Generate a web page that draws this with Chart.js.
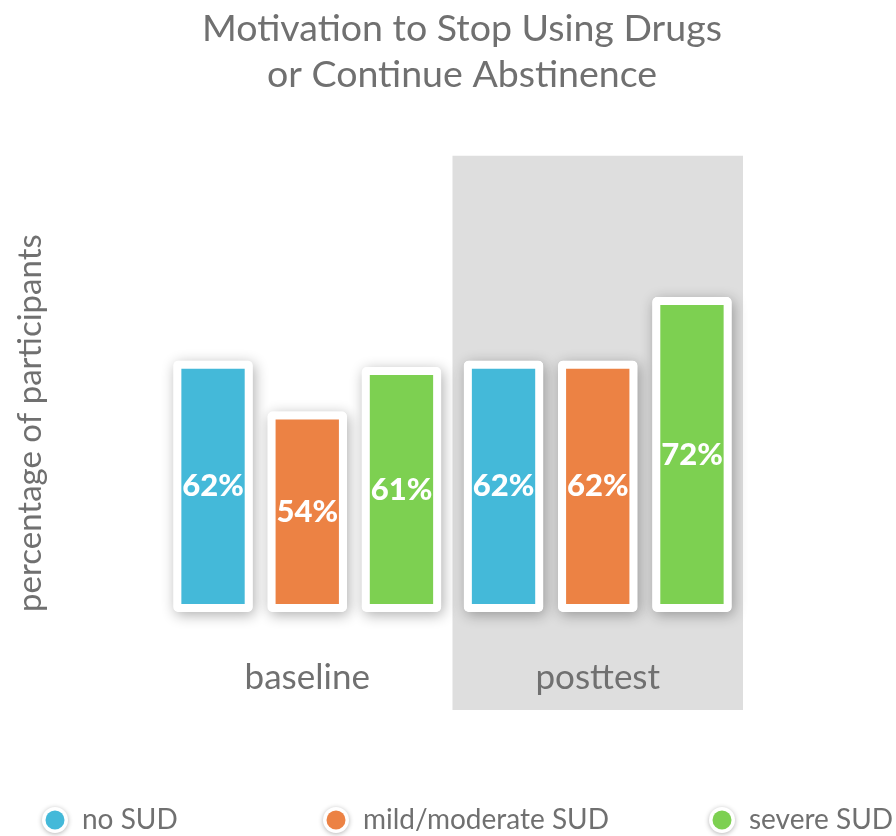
<!DOCTYPE html>
<html>
<head>
<meta charset="utf-8">
<script src="https://cdn.jsdelivr.net/npm/chart.js@4.4.1/dist/chart.umd.min.js"></script>
<style>
  html, body { margin: 0; padding: 0; background: #fff; }
</style>
</head>
<body>
<canvas id="chart" width="896" height="836"></canvas>
<script>
// data
const categories = ["baseline", "posttest"];
const seriesNames = ["no SUD", "mild/moderate SUD", "severe SUD"];
const noSud = [62, 62];
const mildModerateSud = [54, 62];
const severeSud = [61, 72];
const seriesColors = ["#44b9d9", "#ec8244", "#7dd051"];

// the value axis does not start at zero in the original
const yMin = 22.5;
const yMax = 94.2;

const TEXT_GRAY = "#707070";
const FONT = "Lato, 'Open Sans', sans-serif";

// grey band behind the posttest group
const bandPlugin = {
  id: "band",
  beforeDraw(chart) {
    const ctx = chart.ctx;
    const x = chart.scales.x;
    const half = (x.getPixelForValue(1) - x.getPixelForValue(0)) / 2;
    const cx = x.getPixelForValue(1);
    const top = chart.chartArea.top;
    ctx.save();
    ctx.fillStyle = "#dedede";
    ctx.fillRect(cx - half, top, half * 2, chart.chartArea.bottom + 98 - top);
    ctx.restore();
  },
};

// soft drop shadow under each bar frame
const shadowPlugin = {
  id: "barShadow",
  beforeDatasetsDraw(chart) {
    const ctx = chart.ctx;
    ctx.save();
    ctx.shadowColor = "rgba(0,0,0,0.32)";
    ctx.shadowBlur = 14;
    ctx.shadowOffsetX = 2;
    ctx.shadowOffsetY = 3;
    ctx.fillStyle = "#ffffff";
    chart.data.datasets.forEach((ds, i) => {
      chart.getDatasetMeta(i).data.forEach((bar) => {
        const p = bar.getProps(["x", "y", "base", "width"], true);
        ctx.beginPath();
        ctx.roundRect(p.x - p.width / 2, p.y, p.width, p.base - p.y, 5);
        ctx.fill();
      });
    });
    ctx.restore();
  },
};

// white percentage inside each bar
const valueLabels = {
  id: "valueLabels",
  afterDatasetsDraw(chart) {
    const ctx = chart.ctx;
    ctx.save();
    ctx.fillStyle = "#ffffff";
    ctx.font = "900 31px " + FONT;
    ctx.textAlign = "center";
    ctx.textBaseline = "middle";
    chart.data.datasets.forEach((ds, i) => {
      chart.getDatasetMeta(i).data.forEach((bar, j) => {
        const p = bar.getProps(["x", "y", "base"], true);
        ctx.fillText(ds.data[j] + "%", p.x, (p.y + p.base) / 2);
      });
    });
    ctx.restore();
  },
};

// legend row at the bottom
const legendX = [55, 336, 722];
const bottomLegend = {
  id: "bottomLegend",
  afterDraw(chart) {
    const ctx = chart.ctx;
    const y = chart.height - 16;
    ctx.save();
    chart.data.datasets.forEach((ds, i) => {
      const cx = legendX[i];
      ctx.save();
      ctx.shadowColor = "rgba(0,0,0,0.3)";
      ctx.shadowBlur = 5;
      ctx.shadowOffsetY = 1;
      ctx.fillStyle = "#ffffff";
      ctx.beginPath();
      ctx.arc(cx, y, 13, 0, Math.PI * 2);
      ctx.fill();
      ctx.restore();
      ctx.fillStyle = ds.backgroundColor;
      ctx.beginPath();
      ctx.arc(cx, y, 9.5, 0, Math.PI * 2);
      ctx.fill();
      ctx.fillStyle = TEXT_GRAY;
      ctx.font = "28px " + FONT;
      ctx.textAlign = "left";
      ctx.textBaseline = "middle";
      ctx.fillText(ds.label, cx + 27, y);
    });
    ctx.restore();
  },
};

const series = [noSud, mildModerateSud, severeSud];

new Chart(document.getElementById("chart"), {
  type: "bar",
  data: {
    labels: categories,
    datasets: series.map((values, i) => ({
      label: seriesNames[i],
      data: values,
      base: yMin,
      backgroundColor: seriesColors[i],
      borderColor: "#ffffff",
      borderWidth: 8,
      borderSkipped: false,
      borderRadius: 5,
      categoryPercentage: 0.973,
      barPercentage: 0.842,
    })),
  },
  options: {
    responsive: false,
    animation: false,
    devicePixelRatio: 1,
    layout: { padding: { left: 28, right: 0, top: 0, bottom: 92 } },
    plugins: {
      legend: { display: false },
      tooltip: { enabled: false },
      title: {
        display: true,
        text: ["Motivation to Stop Using Drugs", "or Continue Abstinence"],
        color: TEXT_GRAY,
        font: { family: FONT, size: 37.5, weight: "normal", lineHeight: 1.25 },
        padding: { top: 5, bottom: 57 },
      },
    },
    scales: {
      x: {
        grid: { display: false, drawTicks: false },
        border: { display: false },
        ticks: { color: TEXT_GRAY, font: { family: FONT, size: 35 }, padding: 45 },
      },
      y: {
        min: yMin,
        max: yMax,
        grid: { display: false, drawTicks: false },
        border: { display: false },
        ticks: { display: false },
        title: {
          display: true,
          text: "percentage of participants",
          align: "start",
          color: TEXT_GRAY,
          font: { family: FONT, size: 33 },
          padding: { top: -17, bottom: 0 },
        },
        afterFit(scale) { scale.width = 134; },
      },
      yRight: {
        type: "linear",
        position: "right",
        display: true,
        grid: { display: false, drawTicks: false },
        border: { display: false },
        ticks: { display: false },
        afterFit(scale) { scale.width = 153; },
      },
    },
  },
  plugins: [bandPlugin, shadowPlugin, valueLabels, bottomLegend],
});
</script>
</body>
</html>
